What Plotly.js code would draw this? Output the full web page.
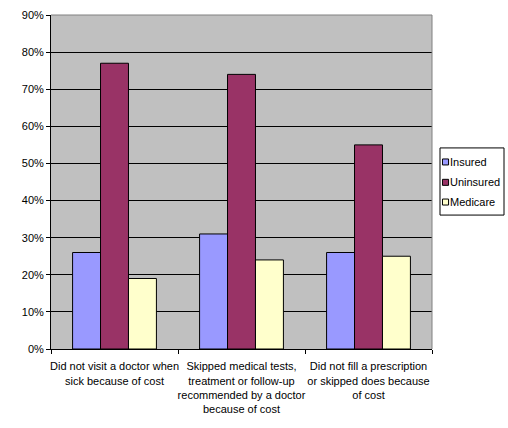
<!DOCTYPE html>
<html><head><meta charset="utf-8">
<script src="https://cdn.plot.ly/plotly-3.0.1.min.js"></script>
<style>html,body{margin:0;padding:0;background:#fff}#chart{width:508px;height:428px}</style>
</head><body><div id="chart"></div>
<script>
var categories = [
  "Did not visit a doctor when<br>sick because of cost",
  "Skipped medical tests,<br>treatment or follow-up<br>recommended by a doctor<br>because of cost",
  "Did not fill a prescription<br>or skipped does because<br>of cost"
];
var seriesNames = ["Insured", "Uninsured", "Medicare"];
var seriesColors = ["#9999FF", "#993366", "#FFFFCC"];
var insured = [26, 31, 26];
var uninsured = [77, 74, 55];
var medicare = [19, 24, 25];
var yTicks = [0, 10, 20, 30, 40, 50, 60, 70, 80, 90];
var yTickText = ["0%", "10%", "20%", "30%", "40%", "50%", "60%", "70%", "80%", "90%"];

var seriesValues = [insured, uninsured, medicare];
var data = seriesNames.map(function (n, i) {
  return {type: 'bar', name: n, x: categories, y: seriesValues[i],
    marker: {color: seriesColors[i], line: {color: '#000', width: 1}},
    hoverinfo: 'none', showlegend: false};
});

// custom legend (paper coordinates)
var shapes = [
  {type: 'line', xref: 'paper', yref: 'paper', x0: 0, x1: 1, y0: 1, y1: 1, line: {color: '#808080', width: 1}},
  {type: 'line', xref: 'paper', yref: 'paper', x0: 1, x1: 1, y0: 0, y1: 1, line: {color: '#808080', width: 1}},
  {type: 'rect', xref: 'paper', yref: 'paper', x0: 1.021, x1: 1.189, y0: 0.401, y1: 0.602,
    line: {color: '#000', width: 1}, fillcolor: '#fff'}
];
var annotations = [];
var legY = [0.560, 0.499, 0.440];
seriesNames.forEach(function (n, i) {
  shapes.push({type: 'rect', xref: 'paper', yref: 'paper', x0: 1.0275, x1: 1.0435,
    y0: legY[i] - 0.009, y1: legY[i] + 0.009, line: {color: '#000', width: 1}, fillcolor: seriesColors[i]});
  annotations.push({xref: 'paper', yref: 'paper', x: 1.045, y: legY[i], xanchor: 'left', yanchor: 'middle',
    text: n, showarrow: false, font: {size: 11, color: '#000'}, borderpad: 0});
});

var layout = {
  width: 508, height: 428,
  margin: {l: 51, r: 76, t: 15, b: 79},
  paper_bgcolor: '#fff', plot_bgcolor: '#C0C0C0',
  font: {family: 'Arial, "Liberation Sans", sans-serif', size: 11, color: '#000'},
  barmode: 'group', bargap: 0.34, bargroupgap: 0,
  showlegend: false,
  xaxis: {type: 'category', showgrid: false, showline: true, linecolor: '#000', linewidth: 1,
    ticks: 'outside', tickson: 'boundaries', ticklen: 4, tickcolor: '#000', tickangle: 0,
    ticklabelstandoff: 7, tickfont: {size: 11}, zeroline: false, fixedrange: true},
  yaxis: {range: [0, 90], tickmode: 'array', tickvals: yTicks, ticktext: yTickText, showgrid: true,
    gridcolor: '#000', gridwidth: 1, showline: true, linecolor: '#000', linewidth: 1,
    ticks: 'outside', ticklen: 4, tickcolor: '#000', zeroline: false,
    tickfont: {size: 11}, fixedrange: true},
  shapes: shapes,
  annotations: annotations
};
Plotly.newPlot('chart', data, layout, {displayModeBar: false, staticPlot: true});
</script></body></html>
